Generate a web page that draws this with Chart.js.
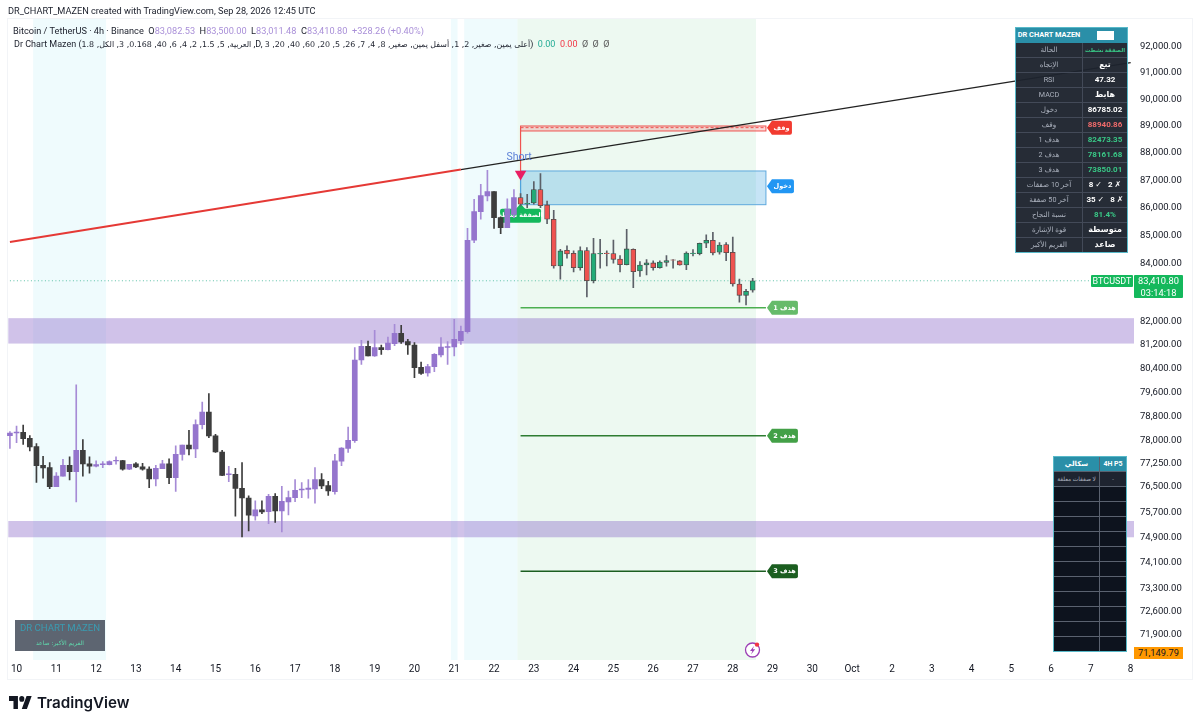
<!DOCTYPE html>
<html lang="en">
<head>
<meta charset="utf-8">
<title>BTC/USDT 4h - Dr Chart Mazen</title>
<script src="https://cdn.jsdelivr.net/npm/chart.js@4"></script>
<style>
html,body{margin:0;padding:0;background:#fff;width:1200px;height:725px;overflow:hidden}
body{font-family:Roboto,"DejaVu Sans",sans-serif;color:#131722}
#wrap{position:relative;width:1200px;height:725px}
canvas{position:absolute;left:0;top:0}
.t{position:absolute;white-space:nowrap}
#credit{left:8px;top:5px;font-size:9.2px;line-height:12px;color:#1b1f2b}
#sym{left:13px;top:25px;font-size:9.2px;line-height:12px;color:#1b1f2b}
#sym b{font-weight:400;color:#a98fd8}
#ind{left:14px;top:38px;font-size:9px;line-height:12px;color:#1b1f2b}
#ind .r{display:inline-block;direction:rtl;unicode-bidi:isolate;font-size:7.9px}
#ind .ar{font-family:"DejaVu Sans"}
table.p{position:absolute;border-collapse:collapse;table-layout:fixed;font-family:Roboto,"DejaVu Sans",sans-serif;font-size:8px;box-sizing:border-box}
table.p td{padding:0;text-align:center;overflow:hidden;white-space:nowrap;height:14px;line-height:14px;border:1px solid #434a58}
table.p tr.h td{background:#2a8fa8;color:#fff;font-weight:700;border-color:#2a8fa8}
table.p{outline:1px solid #58b9c9;outline-offset:-1px}
#tbl1{left:1015px;top:27px;width:112px;height:226px;background:rgba(29,35,46,.96)}
#tbl1 tr.h td{font-size:7.4px}
#tbl1 td.l{color:#aab0bc;font-size:7.2px}
#tbl1 td.v{color:#fff;font-weight:700}
#tbl1 td.g{color:#39c786;font-weight:700}
#tbl1 td.x{color:#ee6a6a;font-weight:700}
#tbl2{left:1053px;top:456px;width:73px;height:195px;background:#0d131e}
#tbl2 td{border-color:#5a6270}
#tbl2 tr.h td{font-size:7px}
#tbl2 tr.f td{background:#1e2430;color:#aab0bc;font-size:5.9px}
#chip{display:inline-block;width:17px;height:9px;background:#fff;vertical-align:middle}
#mark{left:15px;top:620px;width:90px;height:31px;background:rgba(76,84,98,.9);text-align:center}
#mark .a{font-size:9.6px;line-height:14px;color:#3a9cb2;margin-top:1px}
#mark .b{font-size:6px;line-height:10px;color:#5fdcae;direction:rtl;font-family:"DejaVu Sans";margin-top:3px}
#tag{left:1091px;top:275px;width:42px;height:12px;background:#14b85c;color:#fff;font-size:9px;line-height:12px;text-align:center;border-radius:1px}
#px{left:1134px;top:275px;width:49px;height:23px;background:#14b85c;color:#fff;font-size:9.3px;line-height:11.5px;text-align:center;border-radius:1px}
#low{left:1134px;top:647px;width:49px;height:12px;background:#ff9800;color:#131722;font-size:9.3px;line-height:12px;text-align:center}
#tv{left:37px;top:692px;font-family:Inter,"Liberation Sans",sans-serif;font-weight:600;font-size:15.2px;line-height:21px;color:#131722}
svg.i{position:absolute}
</style>
</head>
<body>
<div id="wrap">
<canvas id="c" width="1200" height="725"></canvas>
<div class="t" id="credit">DR_CHART_MAZEN created with TradingView.com, Sep 28, 2026 12:45 UTC</div>
<div class="t" id="sym">Bitcoin / TetherUS · 4h · Binance &nbsp;O<b>83,082.53</b> &nbsp;H<b>83,500.00</b> &nbsp;L<b>83,011.48</b> &nbsp;C<b>83,410.80</b> &nbsp;<b>+328.26 (+0.40%)</b></div>
<div class="t" id="ind">Dr Chart Mazen (<span class="r ar">العربية, 5, 1.5, 2, 4, 6, 40, 0.168, 3, الكل, 1.8</span> ,D, <span class="r ar">أعلى يمين, صغير, 2, 1, أسفل يمين, صغير, 8, 4, 7, 26, 5, 20, 60, 40, 20, 3</span>) &nbsp;<span style="color:#22ab94">0.00</span> &nbsp;<span style="color:#f23645">0.00</span> &nbsp;<span style="color:#555">Ø &nbsp;Ø &nbsp;Ø</span></div>

<table class="p" id="tbl1" dir="ltr">
<colgroup><col style="width:67px"><col style="width:45px"></colgroup>
<tr class="h"><td>DR CHART MAZEN</td><td><span id="chip"></span></td></tr>
<tr><td class="l" dir="rtl">الحالة</td><td class="g" dir="rtl" style="font-size:5.4px">الصفقة نشطت</td></tr>
<tr><td class="l" dir="rtl">الإتجاه</td><td class="v" dir="rtl">تبع</td></tr>
<tr><td class="l">RSI</td><td class="v">47.32</td></tr>
<tr><td class="l">MACD</td><td class="v" dir="rtl">هابط</td></tr>
<tr><td class="l" dir="rtl">دخول</td><td class="v">86785.02</td></tr>
<tr><td class="l" dir="rtl">وقف</td><td class="x">88940.86</td></tr>
<tr><td class="l" dir="rtl">هدف 1</td><td class="g">82473.35</td></tr>
<tr><td class="l" dir="rtl">هدف 2</td><td class="g">78161.68</td></tr>
<tr><td class="l" dir="rtl">هدف 3</td><td class="g">73850.01</td></tr>
<tr><td class="l" dir="rtl">آخر 10 صفقات</td><td class="v">8 ✓ &nbsp; 2 ✗</td></tr>
<tr><td class="l" dir="rtl">آخر 50 صفقة</td><td class="v">35 ✓ &nbsp; 8 ✗</td></tr>
<tr><td class="l" dir="rtl">نسبة النجاح</td><td class="g">81.4%</td></tr>
<tr><td class="l" dir="rtl">قوة الإشارة</td><td class="v" dir="rtl">متوسطة</td></tr>
<tr><td class="l" dir="rtl">الفريم الأكبر</td><td class="v" dir="rtl">صاعد</td></tr>
</table>

<table class="p" id="tbl2">
<colgroup><col style="width:46px"><col style="width:27px"></colgroup>
<tr class="h"><td dir="rtl">سكالي</td><td>4H P5</td></tr>
<tr class="f"><td dir="rtl">لا صفقات معلقة</td><td>-</td></tr>
<tr><td></td><td></td></tr><tr><td></td><td></td></tr><tr><td></td><td></td></tr>
<tr><td></td><td></td></tr><tr><td></td><td></td></tr><tr><td></td><td></td></tr>
<tr><td></td><td></td></tr><tr><td></td><td></td></tr><tr><td></td><td></td></tr>
<tr><td></td><td></td></tr><tr><td></td><td></td></tr>
</table>

<div class="t" id="mark"><div class="a">DR CHART MAZEN</div><div class="b">الفريم الأكبر: صاعد</div></div>
<div class="t" id="tag">BTCUSDT</div>
<div class="t" id="px">83,410.80<br>03:14:18</div>
<div class="t" id="low">71,149.79</div>

<svg class="i" style="left:743px;top:640px" width="20" height="20" viewBox="0 0 20 20">
<circle cx="9.5" cy="10" r="7" fill="#fff" stroke="#9c3fb5" stroke-width="1.3"/>
<path d="M11 6 L7 11 H9.4 L8 14.5 L12.2 9.3 H9.8 Z" fill="#9c3fb5"/>
<circle cx="14" cy="4.6" r="2.2" fill="#f23645"/>
</svg>
<svg class="i" style="left:9px;top:696px" width="23" height="13" viewBox="0 4 36 18" preserveAspectRatio="none">
<path d="M14 22H7V11H0V4h14v18z M28 22h-8l7.5-18h8L28 22z" fill="#131722"/><circle cx="20" cy="8" r="4" fill="#131722"/>
</svg>
<div class="t" id="tv">TradingView</div>
</div>

<script>
// ---------- axis labels ----------
const dayLabels = ['10','11','12','13','14','15','16','17','18','19','20','21','22','23','24','25','26','27','28','29','30','Oct','2','3','4','5','6','7','8'];
const priceTicks = [92000,91000,90000,89000,88000,87000,86000,85000,84000,82000,81200,80400,79600,78800,78000,77250,76500,75700,74900,74100,73300,72600,71900];

// ---------- candles (4h BTCUSDT) ----------
const opens = [78167,78255,78277,78080,77808,77200,77126,76514,76847,77200,76996,77689,77245,77169,77223,77223,77342,77353,77072,77245,77148,77082,76760,77093,77245,76803,77558,77862,77731,78529,78947,78157,77634,76900,76911,76460,76151,
75579,75770,75716,76205,75738,76024,76162,76408,76428,76439,76739,76546,76354,77331,77753,78004,80687,81150,80822,81104,81037,81240,81593,81309,81196,80439,80247,80461,80855,81115,81127,81342,
81650,84839,85864,86431,86588,85648,85290,85768,86370,86141,86177,86660,86105,85589,83931,84484,84377,83872,84472,83416,84354,84389,84365,84177,83977,84519,83755,83965,84037,83872,84059,84142,84107,83965,84365,84365,84732,84838,84413,84684,84413,83299,82904,83082.53];
const highs = [78299,78485,78518,78167,77906,77494,77287,76964,77396,77472,79846,78037,77472,77342,77320,77342,77472,77364,77234,77287,77266,77148,77200,77364,77407,77830,77862,78343,78683,79278,79556,78211,77689,77169,77104,77287,76216,
76056,76056,76269,76290,76525,76375,76739,76643,76739,77126,76932,76685,77558,77775,78452,81104,81354,81331,81695,81196,81468,81901,81867,81388,81275,80619,80540,80901,81445,81309,82073,81844,
85266,86310,86854,87365,86588,85673,86322,86660,86515,86491,86951,87244,86249,85913,84519,84638,84460,84602,84578,84910,84874,84460,84850,84295,85231,84531,84083,84154,84107,84107,84295,84154,84119,84425,84507,84743,85029,85124,84755,84755,84957,83474,83113,83500];
const lows = [77753,77938,77884,77667,76653,76782,76450,76514,76847,76728,76025,76847,76943,77148,77126,77212,77234,77040,77062,77126,77040,76482,76536,77093,76611,76364,77364,77536,77450,78386,78102,77623,76868,76674,75569,74917,75106,
75442,75653,75337,75378,75073,75611,76034,76162,76141,75982,76450,76236,76269,77190,77623,77949,80540,80822,80811,80878,81026,81173,81252,80878,80091,80203,80138,80292,80788,80540,80822,81218,
81600,84755,85589,86249,85266,85076,85290,85648,86069,86009,86129,86009,85433,83849,83463,84201,83720,83778,82847,83335,83849,83931,84025,83720,83965,83172,83567,83614,83778,83849,83919,83849,83955,83802,84283,84319,84578,84319,84343,84119,83218,82662,82570,83011.48];
const closes = [78255,78287,78069,77797,77190,77115,76514,76856,77200,76996,77689,77245,77169,77223,77245,77320,77364,77072,77234,77148,77072,76760,77104,77245,76803,77558,77862,77731,78529,78947,78157,77634,76878,76922,76460,76151,75601,
75770,75706,76205,75738,76045,76162,76397,76439,76471,76739,76535,76375,77342,77764,78015,80687,81150,80822,81104,81037,81263,81593,81298,81196,80428,80236,80461,80878,81127,81138,81388,81662,
84839,85864,86442,86588,85648,85290,85960,86370,86129,86165,86660,86081,85589,83931,84460,84354,83872,84472,83416,84365,84377,84365,84165,83977,84531,83732,83965,84037,83872,84071,84119,84130,83965,84389,84389,84732,84838,84389,84672,84401,83299,82904,83044,83410.80];
const signalBar = 77;      // first bar coloured by the signal indicator

// ---------- levels ----------
const zoneHighs = [82113,75419];
const zoneLows  = [81244,74906];
const sessionStarts = [4,67,69];
const sessionEnds   = [15,68,77];
const tradeStart = 77, tradeEnd = 114, shadeEnd = 113;
const stopLevel = 88940.86, stopHigh = 89003, stopLow = 88817;
const entryLevel = 86785.02, entryHigh = 87340, entryLow = 86114;
const targets = [82473.35,78161.68,73850.01];
const targetNames = ['هدف 1','هدف 2','هدف 3'];
const targetColors = ['#66bb6a','#43a047','#1b5e20'];
const targetLines  = ['#4caf50','#2e7d32','#1b5e20'];
const trendPrices = [84778,87391,91400];
const trendIndex  = [0,68,169];
const lastClose = 83410.80;
const signalPrice = 87230;
const axisMin = 71149.79, axisMax = 93086;

// ---------- build ----------
const slots = dayLabels.length*6 - 4;   // 170 slots on the axis
const labels = Array.from({length:slots},(_,i)=> (i-1)%6===0 ? dayLabels[(i-1)/6] : '');
function at(pairs){const a=new Array(slots).fill(null);pairs.forEach(([i,v])=>a[i]=v);return a;}
const wicks = highs.map((h,i)=>[lows[i],h]);
const bodies = opens.map((o,i)=>[Math.min(o,closes[i]),Math.max(o,closes[i])]);
const up = i => closes[i]>=opens[i];
const bodyColor = i => i>=signalBar ? (up(i)?'#23ab78':'#ef5350') : (up(i)?'#9575cd':'#3d3d3d');
const wickColor = i => i>=signalBar ? '#5c6068' : (up(i)?'#a68bd6':'#3d3d3d');
const edgeColor = i => i>=signalBar ? '#4a4a4a' : bodyColor(i);

const levelsPlugin = {
  id:'levels',
  beforeDraw(ch){
    const c=ch.ctx; c.save(); c.strokeStyle='#f2f4f7'; c.lineWidth=1; c.strokeRect(7.5,18.5,1185,661); c.restore();
  },
  beforeDatasetsDraw(ch){
    const c=ch.ctx,x=ch.scales.x,y=ch.scales.y,a=ch.chartArea;
    const w=x.getPixelForValue(1)-x.getPixelForValue(0);
    const edge=i=>x.getPixelForValue(i)-w/2;
    c.save();
    c.fillStyle='#edf9f1'; c.fillRect(edge(tradeStart),a.top,edge(shadeEnd)-edge(tradeStart),a.bottom-a.top);
    c.fillStyle='#effbfd';
    sessionStarts.forEach((s,i)=>c.fillRect(edge(s),a.top,edge(sessionEnds[i])-edge(s),a.bottom-a.top));
    c.fillStyle='rgba(126,87,194,0.36)';
    zoneHighs.forEach((h,i)=>c.fillRect(a.left+1.7,y.getPixelForValue(h),a.right-a.left-1.7,y.getPixelForValue(zoneLows[i])-y.getPixelForValue(h)));
    // boxes
    const xs=x.getPixelForValue(tradeStart),xe=x.getPixelForValue(tradeEnd);
    const yt=y.getPixelForValue(stopHigh),yb=y.getPixelForValue(stopLow);
    c.fillStyle='rgba(239,83,80,.22)'; c.fillRect(xs,yt,xe-xs,yb-yt);
    c.strokeStyle='#ef5350'; c.lineWidth=1; c.strokeRect(xs,yt,xe-xs,yb-yt);
    c.setLineDash([3,2]); c.beginPath(); c.moveTo(xs,y.getPixelForValue(stopLevel)); c.lineTo(xe,y.getPixelForValue(stopLevel)); c.stroke(); c.setLineDash([]);
    const eT=y.getPixelForValue(entryHigh),eB=y.getPixelForValue(entryLow);
    c.fillStyle='rgba(66,165,225,.30)'; c.fillRect(xs,eT,xe-xs,eB-eT);
    c.strokeStyle='#5fa9dd'; c.strokeRect(xs,eT,xe-xs,eB-eT);
    // vertical from stop to entry
    c.strokeStyle='#ef5350'; c.lineWidth=1.2; c.beginPath(); c.moveTo(xs,y.getPixelForValue(stopLevel)); c.lineTo(xs,y.getPixelForValue(signalPrice)); c.stroke();
    c.strokeStyle='#4fa3dc'; c.beginPath(); c.moveTo(xs,y.getPixelForValue(signalPrice)); c.lineTo(xs,eB); c.stroke();
    // green signal label, under the candles
    const ly=y.getPixelForValue(entryLow)+4;
    c.fillStyle='#14b85c';
    c.beginPath(); c.roundRect(xs-20.5,ly,41,14,2); c.fill();
    c.beginPath(); c.moveTo(xs-5,ly+.5); c.lineTo(xs,ly-5); c.lineTo(xs+5,ly+.5); c.fill();
    c.fillStyle='#fff'; c.font='bold 6.3px "DejaVu Sans"'; c.textAlign='center'; c.textBaseline='middle'; c.direction='rtl';
    c.fillText('الصفقة نشطة',xs,ly+7);
    c.restore();
  },
  afterDatasetsDraw(ch){
    const c=ch.ctx,x=ch.scales.x,y=ch.scales.y;
    const xe=x.getPixelForValue(tradeEnd);
    const tag=(val,txt,col,w)=>{
      const py=y.getPixelForValue(val),l=xe+1;
      c.fillStyle=col;
      c.beginPath(); c.moveTo(l,py); c.lineTo(l+5,py-7); c.lineTo(l+w-2,py-7); c.quadraticCurveTo(l+w,py-7,l+w,py-5);
      c.lineTo(l+w,py+5); c.quadraticCurveTo(l+w,py+7,l+w-2,py+7); c.lineTo(l+5,py+7); c.closePath(); c.fill();
      c.fillStyle='#fff'; c.fillText(txt,l+w/2+2,py+.5);
    };
    c.save();
    c.font='bold 6.5px "DejaVu Sans"'; c.textAlign='center'; c.textBaseline='middle'; c.direction='rtl';
    tag(stopLevel,'وقف','#f23b30',25);
    tag(entryLevel,'دخول','#2196f3',27);
    targets.forEach((t,i)=>tag(t,targetNames[i],targetColors[i],31));
    c.direction='ltr';
    c.fillStyle='#5b7fd6'; c.font='10.5px Roboto'; c.fillText('Short',x.getPixelForValue(tradeStart)-1.5,y.getPixelForValue(signalPrice)-17);
    c.restore();
  }
};

const lineBase = {type:'line',pointRadius:0,spanGaps:true,tension:0,fill:false,borderCapStyle:'butt'};
new Chart(document.getElementById('c'),{
  type:'bar',
  plugins:[levelsPlugin],
  data:{labels,datasets:[
    {...lineBase,data:at(trendIndex.slice(0,2).map((k,i)=>[k,trendPrices[i]])),borderColor:'#e53935',borderWidth:2,order:1},
    {...lineBase,data:at(trendIndex.slice(1).map((k,i)=>[k,trendPrices[i+1]])),borderColor:'#222',borderWidth:1.3,order:1},
    {...lineBase,data:at([[0,lastClose],[slots-1,lastClose]]),borderColor:'#5cc0a8',borderWidth:1,borderDash:[1,2.5],order:6},
    ...targets.map((t,i)=>({...lineBase,data:at([[tradeStart,t],[tradeEnd,t]]),borderColor:targetLines[i],borderWidth:1.5,order:5})),
    {type:'line',data:at([[tradeStart,signalPrice]]),showLine:false,pointStyle:'triangle',rotation:180,pointRadius:6.6,pointHoverRadius:6.6,pointBackgroundColor:'#e91e63',pointBorderWidth:0,order:0},
    {type:'bar',data:bodies,grouped:false,barThickness:5,backgroundColor:c=>bodyColor(c.dataIndex),borderColor:c=>edgeColor(c.dataIndex),borderWidth:c=>c.dataIndex>=signalBar?0.8:0,borderSkipped:false,order:2},
    {type:'bar',data:wicks,grouped:false,barThickness:1,backgroundColor:c=>wickColor(c.dataIndex),order:3}
  ]},
  options:{
    responsive:false,animation:false,devicePixelRatio:1,
    layout:{padding:{left:6,top:19,right:0,bottom:0}},
    plugins:{legend:{display:false},tooltip:{enabled:false}},
    events:[],
    scales:{
      x:{type:'category',offset:true,grid:{display:false,drawTicks:false},border:{display:false},
         ticks:{autoSkip:false,maxRotation:0,minRotation:0,padding:3,color:'#131722',font:{family:'Roboto',size:10}},
         afterFit(s){s.height=65;}},
      y:{type:'logarithmic',position:'right',min:axisMin,max:axisMax,bounds:'data',grid:{display:false,drawTicks:false},border:{display:false},
         afterBuildTicks(s){s.ticks=priceTicks.map(v=>({value:v}));},
         ticks:{autoSkip:false,padding:6,color:'#131722',font:{family:'Roboto',size:9.5},
                callback:v=>Number(v).toLocaleString('en-US',{minimumFractionDigits:2,maximumFractionDigits:2})},
         afterFit(s){s.width=66;}}
    }
  }
});
</script>
</body>
</html>
